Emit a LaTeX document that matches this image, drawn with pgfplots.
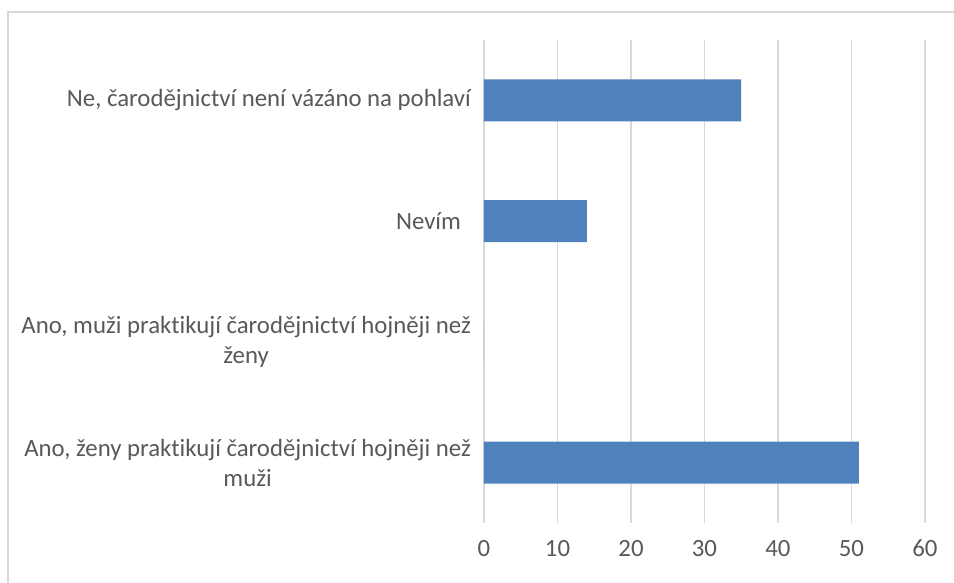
\documentclass[border=0pt]{standalone}
\usepackage{pgfplots}
\pgfplotsset{compat=1.18}
\usepackage{fontspec}
\setmainfont{Carlito}[Ligatures={NoCommon}]
\definecolor{barblue}{HTML}{4F81BD}
\definecolor{gridgray}{HTML}{D9D9D9}
\definecolor{txtgray}{HTML}{595959}
\definecolor{framegray}{HTML}{D9D9D9}
\begin{document}
\begin{tikzpicture}[x=1pt,y=1pt]
\useasboundingbox (0,0) rectangle (477,291.5);
\fill[white] (0,0) rectangle (477,291.5);
\draw[framegray, line width=0.8pt] (4,-5) rectangle (482,285.5);
\begin{axis}[
  at={(242pt,30pt)}, anchor=south west,
  scale only axis,
  width=220.5pt, height=241.5pt,
  xbar,
  xmin=0, xmax=60,
  ymin=-0.5, ymax=3.5,
  xtick={0,10,...,60},
  ytick={0,1,2,3},
  yticklabels={{Ano, ženy praktikují čarodějnictví hojněji než\\muži},{Ano, muži praktikují čarodějnictví hojněji než\\ženy},{Nevím\hspace{5pt}},{Ne, čarodějnictví není vázáno na pohlaví}},
  yticklabel style={align=center, font=\fontsize{12.4}{15}\selectfont, text=txtgray, xshift=-3pt},
  xticklabel style={font=\fontsize{12.4}{14}\selectfont, text=txtgray, yshift=-5pt},
  /pgf/number format/assume math mode=true,
  xmajorgrids,
  grid style={gridgray, line width=0.8pt},
  axis line style={draw=none},
  major tick length=0pt,
  bar width=21pt,
  clip=false,
]
\addplot[fill=barblue, draw=none] coordinates {(51,0) (0,1) (14,2) (35,3)};
\end{axis}
\end{tikzpicture}
\end{document}
